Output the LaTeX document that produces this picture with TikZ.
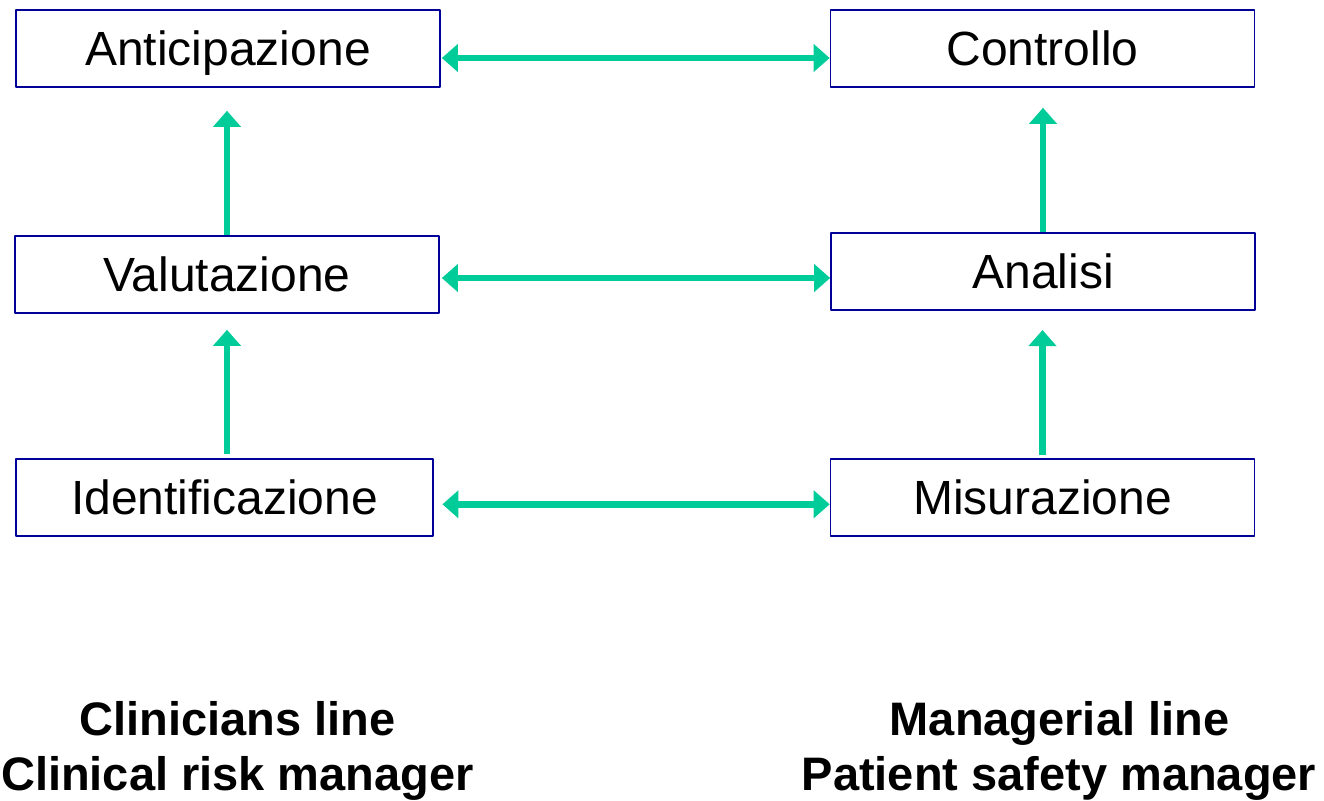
\documentclass[tikz,border=0pt]{standalone}
\usepackage{fontspec}
\setmainfont{Liberation Sans}
\usetikzlibrary{arrows.meta}
\definecolor{bordo}{RGB}{0,0,153}
\definecolor{verde}{RGB}{0,204,153}
\begin{document}
\begin{tikzpicture}[x=0.5pt, y=-0.5pt, line join=round,
		>={Triangle[length=8pt,width=13.5pt]},
		stadio/.style={draw=bordo, line width=0.8pt, inner sep=0pt, text height=27.5pt, text depth=11pt,
			minimum width=212pt, font=\fontsize{24}{28.8}\selectfont},
		ruolo/.style={anchor=base, inner sep=0pt, font=\fontsize{23.5}{28.2}\selectfont\bfseries},
		freccia/.style={draw=verde, line width=3.2pt}]
	\useasboundingbox (0,0) rectangle (1324,800);
	% clinicians side
	\node[stadio] (anti) at (228,48.5) {Anticipazione};
	\node[stadio] (valu) at (227,274.5) {Valutazione};
	\node[stadio, minimum width=208.5pt] (iden) at (224.5,497.5) {Identificazione};
	% managerial side
	\node[stadio] (contr) at (1042.5,48.5) {Controllo};
	\node[stadio] (anal) at (1043,271.7) {Analisi};
	\node[stadio] (misu) at (1042.5,497.5) {Misurazione};
	% links between the two lines
	\foreach \a/\b/\s/\c in {anti/contr/-4.75pt/0.5pt, valu/anal/-1.75pt/1pt, iden/misu/-3.4pt/4.3pt}
		\draw[freccia,<->,shorten <=\c] ([yshift=\s]\a.east) -- ([yshift=\s]\a.east -| \b.west);
	% steps upwards
	\draw[freccia,->,shorten >=11.5pt] (valu.north) -- (valu.north |- anti.south);
	\draw[freccia,->,shorten <=2pt,shorten >=8pt] (valu.south |- iden.north) -- (valu.south);
	\draw[freccia,->,shorten >=10pt] (anal.north) -- (anal.north |- contr.south);
	\draw[freccia,->,shorten <=1.5pt,shorten >=9.5pt] (misu.north) -- (misu.north |- anal.south);
	% roles
	\node[ruolo] (clin) at (237.5,735) {Clinicians line};
	\node[ruolo] (crm) at (237.5,790) {Clinical risk manager};
	\node[ruolo] (mana) at (1059.5,735) {Managerial line};
	\node[ruolo] (psm) at (1059,790) {Patient safety manager};
\end{tikzpicture}
\end{document}
